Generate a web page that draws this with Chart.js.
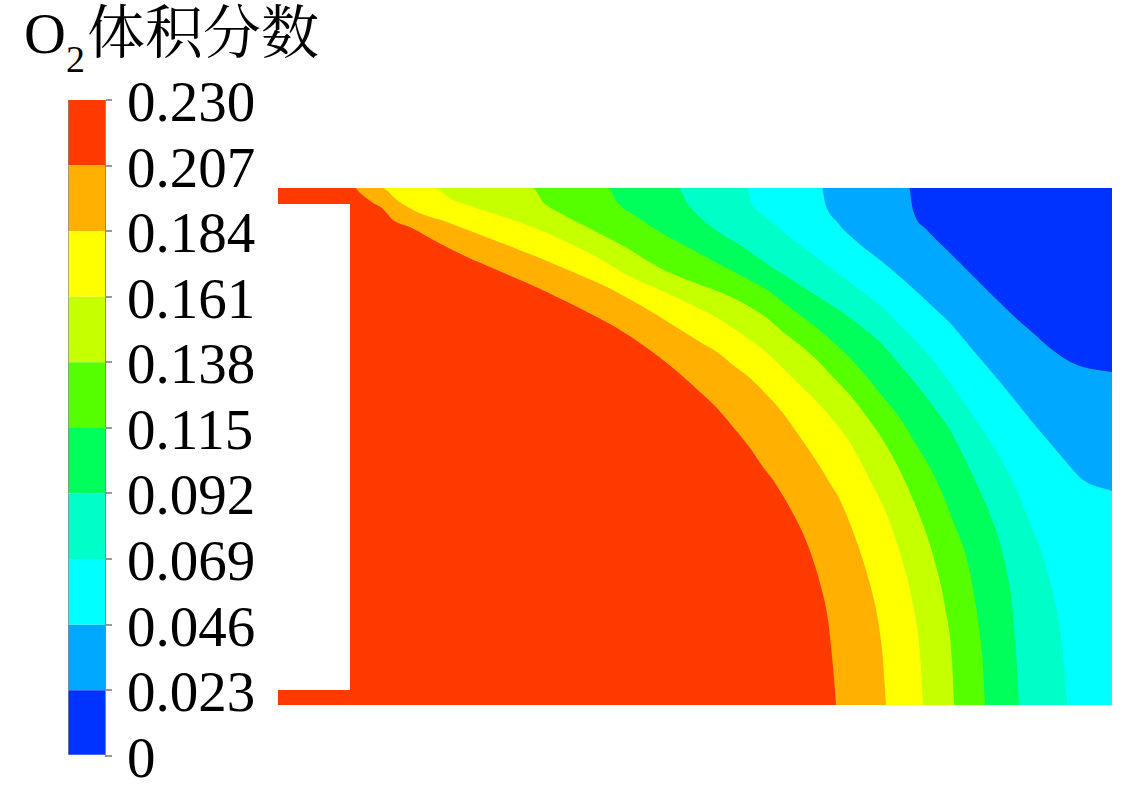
<!DOCTYPE html>
<html>
<head>
<meta charset="utf-8">
<title>O2体积分数</title>
<script src="https://cdn.jsdelivr.net/npm/chart.js@4"></script>
<style>
    html, body { margin: 0; padding: 0; background: #fff; overflow: hidden; }
    body { width: 1140px; height: 799px; position: relative; }
    canvas { position: absolute; }
    #colorbar { left: 68px; top: 40px; }
    #field { left: 278px; top: 188px; }
    #title {
        position: absolute; left: 24px; top: -5px; white-space: nowrap; color: #000;
        font-family: "Noto Serif CJK SC", "Noto Sans CJK SC", sans-serif; font-size: 58px; line-height: 66px;
    }
    #title .latin { font-family: "Liberation Serif", serif; font-size: 58px; margin-right: 2px; }
    #title sub { font-family: "Liberation Serif", serif; font-size: 38px; line-height: 0; vertical-align: -19px; }
</style>
</head>
<body>
<div id="title"><span class="latin">O<sub>2</sub></span>体积分数</div>
<canvas id="colorbar" width="220" height="765"></canvas>
<canvas id="field" width="834" height="517"></canvas>

<script>
// colour scale
const tickValues = [0, 0.023, 0.046, 0.069, 0.092, 0.115, 0.138, 0.161, 0.184, 0.207, 0.230];
const tickLabels = ['0', '0.023', '0.046', '0.069', '0.092', '0.115', '0.138', '0.161', '0.184', '0.207', '0.230'];
const bandColors = ['#0033ff', '#00a8ff', '#00ffff', '#00ffc8', '#00ff5a', '#55ff00', '#c6ff00', '#ffff00', '#ffb000', '#ff3a00'];

// contour lines, x along the duct, y up from the lower wall
const domainX = [0, 834];
const domainY = [0, 517];

const level023X = [0, 631, 635, 649, 669, 682, 707, 740, 755, 772, 789, 805, 834];
const level023Y = [517, 517, 495, 475, 455, 442, 417, 385, 372, 357, 345, 338, 333];

const level046X = [0, 544, 547, 559, 579, 602, 629, 655, 672, 689, 705, 722, 739, 755, 772, 789, 805, 834];
const level046Y = [517, 517, 502, 483, 463, 445, 422, 398, 382, 362, 343, 323, 302, 282, 262, 242, 225, 214];

const level069X = [0, 469, 474, 489, 512, 545, 565, 589, 605, 622, 639, 655, 672, 689, 705, 722, 739, 751, 767, 780, 787, 789];
const level069Y = [517, 517, 502, 487, 468, 443, 428, 410, 397, 380, 363, 345, 323, 298, 275, 248, 215, 185, 142, 88, 32, 0];

const level092X = [0, 400, 409, 425, 445, 462, 495, 519, 539, 555, 572, 589, 605, 622, 639, 655, 672, 689, 702, 710, 725, 734, 739, 741];
const level092Y = [517, 517, 502, 485, 470, 460, 437, 422, 409, 399, 387, 374, 360, 340, 320, 299, 275, 242, 214, 196, 150, 100, 38, 0];

const level115X = [0, 330, 339, 359, 382, 415, 449, 462, 489, 505, 522, 539, 555, 572, 589, 605, 622, 639, 649, 665, 675, 689, 700, 705, 707];
const level115Y = [517, 517, 503, 488, 473, 455, 437, 430, 415, 403, 390, 377, 363, 347, 328, 308, 287, 259, 243, 210, 184, 145, 85, 38, 0];

const level138X = [0, 255, 265, 282, 315, 349, 382, 415, 449, 472, 489, 505, 522, 539, 555, 572, 589, 605, 625, 644, 655, 667, 674, 676];
const level138Y = [517, 517, 503, 492, 475, 457, 437, 423, 410, 398, 387, 373, 360, 345, 328, 310, 288, 265, 228, 183, 150, 98, 45, 0];

const level161X = [0, 155, 175, 195, 229, 262, 282, 315, 349, 382, 422, 439, 455, 472, 489, 505, 522, 539, 555, 572, 592, 609, 622, 634, 642, 645];
const level161Y = [517, 517, 505, 498, 487, 475, 466, 450, 430, 415, 396, 387, 377, 365, 352, 337, 320, 303, 285, 262, 225, 190, 152, 105, 52, 0];

const level184X = [0, 104, 119, 139, 169, 195, 229, 262, 295, 329, 362, 395, 422, 439, 455, 472, 489, 505, 522, 539, 550, 562, 577, 590, 600, 605, 608];
const level184Y = [517, 517, 505, 493, 483, 473, 460, 447, 433, 418, 400, 380, 363, 353, 340, 327, 310, 292, 268, 243, 225, 205, 168, 128, 85, 45, 0];

const level207X = [0, 77, 82, 95, 104, 115, 134, 159, 189, 219, 249, 279, 309, 339, 369, 395, 422, 439, 455, 472, 485, 495, 512, 529, 542, 550, 555, 558];
const level207Y = [517, 517, 512, 502, 497, 485, 477, 463, 448, 435, 422, 408, 393, 377, 357, 337, 313, 297, 278, 257, 238, 225, 197, 162, 122, 85, 38, 0];

// air inlet, nothing is computed in there
const inletX = [0, 72];
const inletTop = [501, 501];
const inletBottom = 15;


function colorbarDataset(color, index) {
    return {
        data: [tickValues[index + 1] - tickValues[index]],
        backgroundColor: color,
        borderColor: '#8a8a8a',
        borderWidth: { left: 1, right: 0, top: 0, bottom: 0 },
        borderSkipped: false,
        barPercentage: 1,
        categoryPercentage: 1
    };
}


function levelDataset(xs, ys, color, fill) {
    return {
        data: xs.map((x, i) => ({ x: x, y: ys[i] })),
        showLine: true,
        backgroundColor: color,
        borderWidth: 0,
        pointRadius: 0,
        cubicInterpolationMode: 'monotone',
        fill: fill
    };
}


new Chart('colorbar', {
    type: 'bar',
    data: {
        labels: ['O2'],
        datasets: bandColors.map(colorbarDataset)
    },
    options: {
        responsive: false,
        animation: false,
        layout: { padding: { top: 60, bottom: 44.5, left: 0, right: 0 } },
        plugins: { legend: { display: false }, tooltip: { enabled: false } },
        scales: {
            x: { stacked: true, display: false },
            y: {
                stacked: true,
                position: 'right',
                min: 0,
                max: 0.23,
                afterFit: (scale) => { scale.width = 183 },
                afterBuildTicks: (scale) => { scale.ticks = tickValues.map((v) => ({ value: v })) },
                border: { color: '#8a8a8a', width: 1 },
                grid: { drawOnChartArea: false, color: '#999', lineWidth: 2, tickLength: 7 },
                ticks: {
                    autoSkip: false,
                    padding: 15,
                    labelOffset: 6,
                    color: '#000',
                    font: { family: '"Liberation Serif", serif', size: 57 },
                    callback: (value, index) => tickLabels[index]
                }
            }
        }
    }
});


// first dataset is painted last, so the highest level goes on top
new Chart('field', {
    type: 'scatter',
    data: {
        datasets: [
            levelDataset(inletX, inletTop, '#ffffff', { value: inletBottom }),
            levelDataset(level207X, level207Y, bandColors[9], 'start'),
            levelDataset(level184X, level184Y, bandColors[8], 'start'),
            levelDataset(level161X, level161Y, bandColors[7], 'start'),
            levelDataset(level138X, level138Y, bandColors[6], 'start'),
            levelDataset(level115X, level115Y, bandColors[5], 'start'),
            levelDataset(level092X, level092Y, bandColors[4], 'start'),
            levelDataset(level069X, level069Y, bandColors[3], 'start'),
            levelDataset(level046X, level046Y, bandColors[2], 'start'),
            levelDataset(level023X, level023Y, bandColors[1], 'start'),
            levelDataset(domainX, [domainY[1], domainY[1]], bandColors[0], 'start')
        ]
    },
    options: {
        responsive: false,
        animation: false,
        plugins: { legend: { display: false }, tooltip: { enabled: false } },
        scales: {
            x: { type: 'linear', display: false, min: domainX[0], max: domainX[1] },
            y: { type: 'linear', display: false, min: domainY[0], max: domainY[1] }
        }
    }
});
</script>
</body>
</html>
